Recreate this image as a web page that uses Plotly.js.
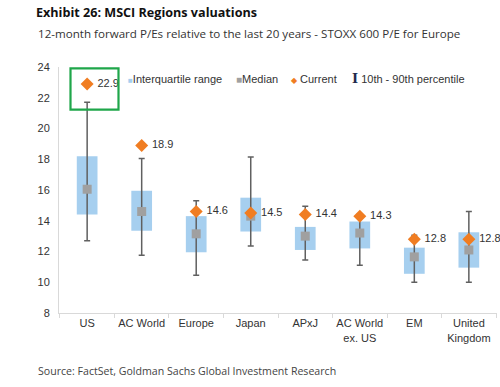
<!DOCTYPE html>
<html><head><meta charset="utf-8">
<script src="https://cdn.plot.ly/plotly-3.0.1.min.js"></script>
<style>html,body{margin:0;padding:0;background:#fff}#chart{width:500px;height:387px}</style>
</head><body><div id="chart"></div>
<script>
const categories = ["US","AC World","Europe","Japan","APxJ","AC World<br>ex. US","EM","United<br>Kingdom"];
const q1      = [14.4, 13.35, 11.95, 13.3, 12.1, 12.2, 10.55, 10.95];
const q3      = [18.2, 15.95, 14.3, 15.5, 13.6, 13.95, 12.25, 13.25];
const median  = [16.05, 14.6, 13.15, 14.3, 13.0, 13.2, 11.65, 12.1];
const p10     = [12.7, 11.75, 10.45, 12.35, 11.45, 11.1, 10.0, 10.0];
const p90     = [21.7, 18.05, 15.3, 18.15, 14.95, 14.45, 13.05, 14.6];
const current = [22.9, 18.9, 14.6, 14.5, 14.4, 14.3, 12.8, 12.8];
const currentLabels = ["22.9","18.9","14.6","14.5","14.4","14.3","12.8","12.8"];
const yTicks = [8,10,12,14,16,18,20,22,24];

const iqrHeight = q3.map((v,i)=>v-q1[i]);
const errPlus = p90.map((v,i)=>v-median[i]);
const errMinus = median.map((v,i)=>v-p10[i]);

const traces = [
  {type:"bar", x:categories, y:iqrHeight, base:q1, width:0.38,
   marker:{color:"#a6cfef"}, hoverinfo:"skip", showlegend:false},
  {type:"scatter", mode:"markers", x:categories, y:median,
   marker:{symbol:"square", size:9, color:"#a0a0a0"},
   error_y:{type:"data", symmetric:false, array:errPlus, arrayminus:errMinus,
            color:"#606060", thickness:1.5, width:3},
   showlegend:false},
  {type:"scatter", mode:"markers+text", x:categories, y:current,
   marker:{symbol:"diamond", size:10, color:"#f07d22"},
   text:currentLabels.map(t=>" "+t), textposition:"middle right",
   textfont:{family:"Liberation Sans, Arial, sans-serif", size:11, color:"#333"},
   cliponaxis:false, showlegend:false}
];

const px = v => (v-59)/438;      // pixel x -> paper
const py = v => (313.3-v)/246.6;  // pixel y -> paper
const legendFont = {family:"Liberation Sans, Arial, sans-serif", size:11, color:"#333"};

const layout = {
  width:500, height:387,
  margin:{l:59, r:3, t:66.7, b:73.7},
  paper_bgcolor:"#fff", plot_bgcolor:"#fff",
  showlegend:false,
  title:{text:"Exhibit 26: MSCI Regions valuations", x:36/500, xanchor:"left", xref:"container",
         y:1-13/387, yanchor:"middle", yref:"container",
         font:{family:"Open Sans, sans-serif", size:12.6, color:"#111", weight:700}},
  xaxis:{type:"category", showline:true, linecolor:"#d9d9d9", linewidth:1,
         ticks:"outside", tickson:"boundaries", ticklen:4, tickcolor:"#d9d9d9", tickangle:0,
         tickfont:{family:"Liberation Sans, Arial, sans-serif", size:11, color:"#333"},
         showgrid:false, zeroline:false, fixedrange:true},
  yaxis:{range:[8,24], tickvals:yTicks, ticktext:yTicks.map(String),
         showline:true, linecolor:"#d9d9d9", linewidth:1, ticks:"", ticklabelstandoff:6,
         tickfont:{family:"Liberation Sans, Arial, sans-serif", size:11, color:"#333"},
         showgrid:false, zeroline:false, fixedrange:true},
  shapes:[
    {type:"rect", xref:"paper", yref:"paper", x0:px(70.5), x1:px(118.5), y0:py(109.5), y1:py(68),
     line:{color:"#1fa64a", width:2.2}, fillcolor:"rgba(0,0,0,0)"}
  ],
  annotations:[
    {xref:"paper", yref:"paper", x:px(36), y:py(33), xanchor:"left", yanchor:"middle", showarrow:false,
     text:"12-month forward P/Es relative to the last 20 years - STOXX 600 P/E for Europe",
     font:{family:"Open Sans, sans-serif", size:11.6, color:"#333"}},
    {xref:"paper", yref:"paper", x:px(36), y:py(371), xanchor:"left", yanchor:"middle", showarrow:false,
     text:"Source: FactSet, Goldman Sachs Global Investment Research",
     font:{family:"Open Sans, sans-serif", size:10.6, color:"#444"}},
    {xref:"paper", yref:"paper", x:px(126), y:py(79), xanchor:"left", yanchor:"middle", showarrow:false,
     text:"<span style='color:#a6cfef;font-size:8px'>■</span>Interquartile range", font:legendFont},
    {xref:"paper", yref:"paper", x:px(234), y:py(79), xanchor:"left", yanchor:"middle", showarrow:false,
     text:"<span style='color:#a0a0a0;font-size:10px'>■</span>Median", font:legendFont},
    {xref:"paper", yref:"paper", x:px(289), y:py(79), xanchor:"left", yanchor:"middle", showarrow:false,
     text:"<span style='color:#f07d22;font-size:8px'>◆</span> Current", font:legendFont},
    {xref:"paper", yref:"paper", x:px(350), y:py(78), xanchor:"left", yanchor:"middle", showarrow:false,
     text:"<span style='color:#1f2a4d;font-size:13px;font-family:DejaVu Serif'><b>I</b></span> 10th - 90th percentile", font:legendFont}
  ]
};

Plotly.newPlot("chart", traces, layout, {staticPlot:true, displayModeBar:false});
</script>
</body></html>
